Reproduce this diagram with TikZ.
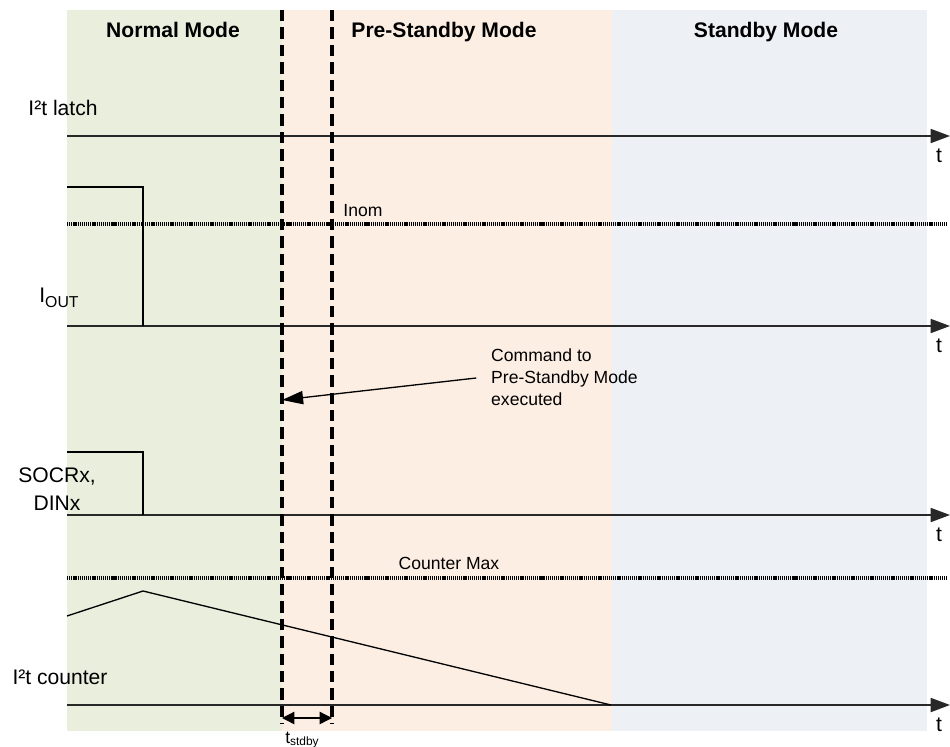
\documentclass[tikz,border=0pt]{standalone}
\usepackage{fontspec}
\setmainfont{Liberation Sans}
\usetikzlibrary{arrows.meta}

\definecolor{normalbg}{RGB}{234,238,221}
\definecolor{prebg}{RGB}{253,238,228}
\definecolor{stbybg}{RGB}{237,241,246}
\definecolor{ink}{RGB}{40,40,40}

\tikzset{
  axis/.style={line width=0.9pt, draw=ink, -{Triangle[length=11pt,width=8pt]}},
  signal/.style={line width=0.75pt},
  limit/.style={line width=2pt, dash pattern=on 0.7pt off 0.5pt},
  border/.style={line width=2.1pt, dash pattern=on 6.5pt off 3.4pt},
  pointer/.style={line width=0.75pt, -{Triangle[length=12pt,width=7.5pt]}, shorten <=5pt},
  dim/.style={line width=0.75pt, {Triangle[length=7pt,width=7pt]}-{Triangle[length=7pt,width=7pt]}},
  lbl/.style={font=\fontsize{12}{16}\selectfont},
  small/.style={font=\fontsize{10}{12.5}\selectfont},
  mode/.style={font=\fontsize{12}{14}\selectfont\bfseries, anchor=base}
}

\begin{document}
\begin{tikzpicture}[x=0.02cm, y=-0.02cm]
    \useasboundingbox (0,0) rectangle (950,747);

    % mode areas
    \fill[normalbg] (67,10) rectangle (282,731);
    \fill[prebg] (282,10) rectangle (612,731);
    \fill[stbybg] (612,10) rectangle (927,731);
    \node[mode] (normal) at (173,37) {Normal Mode};
    \node[mode] (prestby) at (444,37) {Pre-Standby Mode};
    \node[mode] (stby) at (766,37) {Standby Mode};

    % time axes
    \foreach \y/\n in {136/latch, 326/iout, 515/socr, 705/cnt} {
        \coordinate (\n0) at (67,\y);
        \coordinate (\n1) at (950,\y);
        \draw[axis] (\n0) -- (\n1);
        \node[lbl] (t\n) at (939,\y+20) {t};
    }

    \node[lbl] (latchlbl) at (63,108) {I²t latch};
    \node[lbl] (ioutlbl) at (59,298) {I\raisebox{-2.5pt}{\fontsize{9}{9}\selectfont OUT}};
    \node[lbl, align=center] (socrlbl) at (57,489) {SOCRx,\\DINx};
    \node[lbl] (cntlbl) at (60,677) {I²t counter};

    % limits
    \draw[limit] (67,224) -- (948,224);
    \node[small] (inom) at (363,211) {Inom};
    \draw[limit] (67,578) -- (948,578);
    \node[small] (cntmax) at (449,563) {Counter Max};

    % signals
    \draw[signal] (67,187) -- (143,187) -- (143,326);
    \draw[signal] (67,452) -- (143,452) -- (143,515);
    \draw[signal] (67,616) -- (143,591) -- (611,705);

    % mode borders
    \draw[border] (282,10) -- (282,724);
    \draw[border] (332,10) -- (332,724);

    % command
    \node[small, align=left, anchor=west] (cmd) at (485,377) {Command to\\Pre-Standby Mode\\executed};
    \coordinate (cmdtip) at (282,400);
    \draw[pointer] (cmd.west) -- (cmdtip);

    % standby delay
    \coordinate (sb0) at (282,718);
    \coordinate (sb1) at (332,718);
    \draw[dim] (sb0) -- (sb1);
    \node[font=\fontsize{10}{10}\selectfont] (tstdby) at (302,740) {t\raisebox{-1pt}{\fontsize{6.8}{7}\selectfont stdby}};
\end{tikzpicture}
\end{document}
